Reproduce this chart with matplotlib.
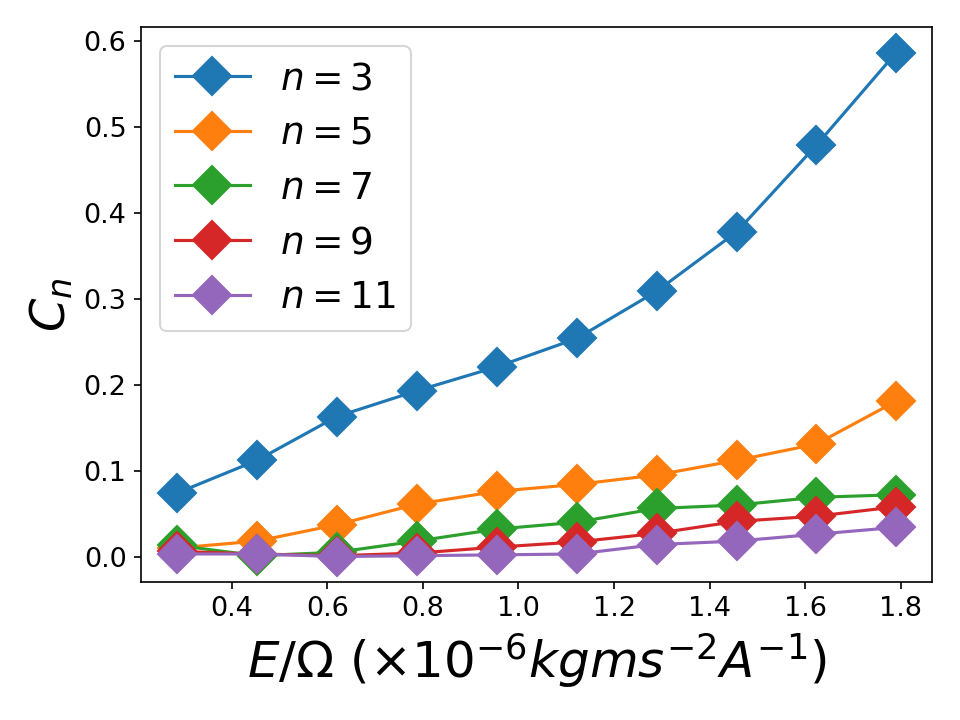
import numpy as np
import matplotlib
matplotlib.use("Agg")
import matplotlib.pyplot as plt

# 横軸 E/Omega
e_omega = [0.286, 0.453, 0.620, 0.787, 0.955, 1.122, 1.289, 1.456, 1.623, 1.790]

# 各次数の係数 C_n
c3 = [0.074, 0.112, 0.163, 0.193, 0.221, 0.254, 0.309, 0.378, 0.479, 0.587]
c5 = [0.010, 0.018, 0.037, 0.061, 0.076, 0.084, 0.095, 0.112, 0.131, 0.181]
c7 = [0.013, 0.001, 0.005, 0.018, 0.032, 0.040, 0.056, 0.060, 0.069, 0.072]
c9 = [0.006, 0.003, 0.001, 0.004, 0.011, 0.017, 0.027, 0.041, 0.047, 0.058]
c11 = [0.003, 0.003, 0.000, 0.001, 0.002, 0.003, 0.014, 0.018, 0.026, 0.034]

orders = [3, 5, 7, 9, 11]
series = [c3, c5, c7, c9, c11]

fig = plt.figure(figsize=(6.4, 4.8), dpi=150)
ax = fig.add_subplot(111)
fig.subplots_adjust(left=0.147, right=0.971, top=0.962, bottom=0.192)

for n, c in zip(orders, series):
    ax.plot(e_omega, c, marker="D", markersize=13, label=r"$n=%d$" % n)

ax.set_xlabel(r"$E/\Omega\ (\times 10^{-6} kgms^{-2}A^{-1})$", fontsize=24)
ax.set_ylabel(r"$C_n$", fontsize=23)
ax.tick_params(labelsize=13)
ax.legend(loc="upper left", fontsize=18)

fig.savefig("out.png", dpi=150)
